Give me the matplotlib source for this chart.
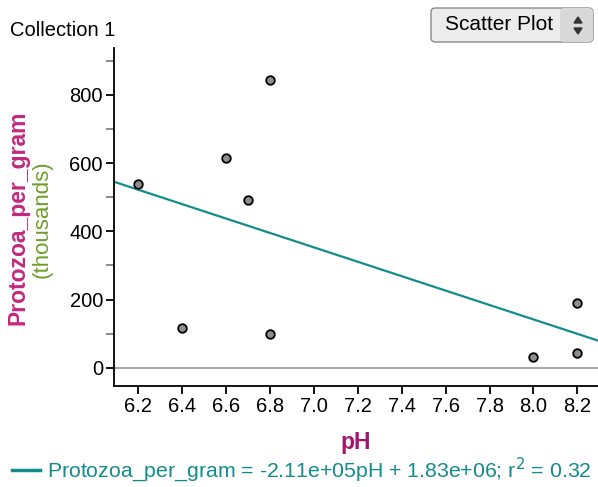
import matplotlib
matplotlib.use("Agg")
import matplotlib.pyplot as plt
import matplotlib.ticker as ticker
from matplotlib.patches import FancyBboxPatch, Polygon
from matplotlib.lines import Line2D
import numpy as np

plt.rcParams["font.family"] = ["Liberation Sans", "DejaVu Sans"]

# ---------------------------------------------------------------------------
# Data (protozoa in thousands per gram)
# ---------------------------------------------------------------------------
ph = [6.2, 6.4, 6.6, 6.7, 6.8, 6.8, 8.0, 8.2, 8.2]
protozoa = [540, 116, 614, 491, 842, 99, 32, 44, 190]
slope = -211.0        # thousands per pH unit
intercept = 1830.0    # thousands
fit_label = "Protozoa_per_gram = -2.11e+05pH + 1.83e+06; r$^2$ = 0.32"
x_ticks = [6.2, 6.4, 6.6, 6.8, 7.0, 7.2, 7.4, 7.6, 7.8, 8.0, 8.2]
y_ticks = [0, 200, 400, 600, 800]

# colours
TEAL = "#128c8c"
MAGENTA = "#c2287e"
PH_COL = "#a3166f"
OLIVE = "#6f9e2a"

W, H = 598, 487
fig = plt.figure(figsize=(W / 100, H / 100), dpi=100, facecolor="white")
ax = fig.add_axes([114 / W, (H - 386) / H, (598 - 114) / W, (386 - 48) / H])

xmin, xmax = 6.089, 8.294
ax.set_xlim(xmin, xmax)
ax.set_ylim(-53, 937)

ax.axhline(0, color="#a8a8a8", linewidth=1.5, zorder=1)

xs = np.array([xmin, xmax])
ax.plot(xs, slope * xs + intercept, color=TEAL, linewidth=1.6, zorder=2)

ax.scatter(ph, protozoa, s=38, facecolor="#8e8e8e", edgecolor="black",
           linewidth=1.3, zorder=3)

ax.spines[["top", "right"]].set_visible(False)
ax.spines[["left", "bottom"]].set_linewidth(1.3)
ax.set_xticks(x_ticks)
ax.set_xticklabels([f"{v:.1f}" for v in x_ticks])
ax.set_yticks(y_ticks)
ax.yaxis.set_minor_locator(ticker.MultipleLocator(100))
ax.tick_params(axis="both", which="major", length=6, width=1.3,
               labelsize=14.5, color="black", pad=2)
ax.tick_params(axis="y", which="minor", length=6, width=1.2, color="#777777")

ax.set_xlabel("pH", color=PH_COL, fontsize=16.5, fontweight="bold", labelpad=11)

fig.text(18 / W, 1 - 218 / H, "Protozoa_per_gram", rotation=90, color=MAGENTA,
         fontsize=16.5, fontweight="bold", ha="center", va="center")
fig.text(42 / W, 1 - 219 / H, "(thousands)", rotation=90, color=OLIVE,
         fontsize=16, ha="center", va="center")

fig.text(10 / W, 1 - 31 / H, "Collection 1", fontsize=14.5, ha="left", va="center")

# legend row
fig.add_artist(Line2D([12 / W, 40 / W], [1 - 470 / H] * 2, color=TEAL, linewidth=2.5))
fig.text(47 / W, 1 - 470 / H, fit_label, color=TEAL, fontsize=15.3,
         ha="left", va="center")

# "Scatter Plot" selector button
bx0, by0, bw, bh = 431, 8, 162, 34
btn = FancyBboxPatch((bx0 / W, 1 - (by0 + bh) / H), bw / W, bh / H,
                     boxstyle="round,pad=0,rounding_size=0.008",
                     transform=fig.transFigure, facecolor="#ececec",
                     edgecolor="#8a8a8a", linewidth=1.0)
fig.add_artist(btn)
sep = FancyBboxPatch((560 / W, 1 - (by0 + bh) / H), 33 / W, bh / H,
                     boxstyle="round,pad=0,rounding_size=0.008",
                     transform=fig.transFigure, facecolor="#d8d8d8",
                     edgecolor="none")
fig.add_artist(sep)
fig.text(499 / W, 1 - 25 / H, "Scatter Plot", fontsize=15, ha="center", va="center")
cx = 578
fig.add_artist(Polygon([[(cx - 4) / W, 1 - 23 / H], [(cx + 4) / W, 1 - 23 / H],
                        [cx / W, 1 - 17 / H]], closed=True,
                       transform=fig.transFigure, color="#333333"))
fig.add_artist(Polygon([[(cx - 4) / W, 1 - 28 / H], [(cx + 4) / W, 1 - 28 / H],
                        [cx / W, 1 - 34 / H]], closed=True,
                       transform=fig.transFigure, color="#333333"))

fig.savefig("out.png", dpi=100, facecolor="white")
